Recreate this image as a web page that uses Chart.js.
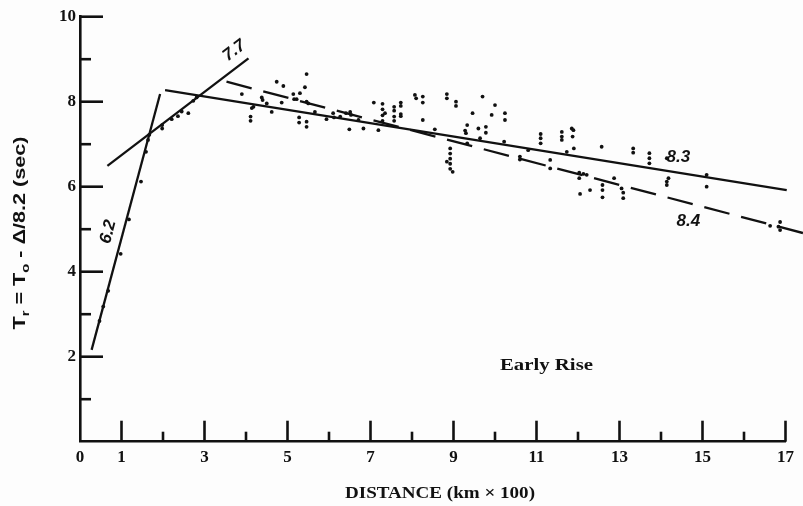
<!DOCTYPE html>
<html>
<head>
<meta charset="utf-8">
<script src="https://cdn.jsdelivr.net/npm/chart.js@4.4.1/dist/chart.umd.min.js"></script>
<style>
  html, body { margin: 0; padding: 0; background: #fdfdfd; }
</style>
</head>
<body>
<canvas id="rise-chart" width="803" height="506"></canvas>
<script>
// observed early-rise times, distance in km x 100
const distKm = [
  0.47, 0.56, 0.68, 0.98, 1.18, 1.47, 1.59, 1.64, 1.67,
  1.98, 1.98, 2.21, 2.36, 2.45, 2.61, 2.73, 2.81,
  3.90, 4.14, 4.11, 4.11, 4.18, 4.74, 4.90, 5.46, 5.42, 5.14, 5.16, 5.22, 5.30,
  4.38, 4.40, 4.86, 4.62, 4.50, 5.28, 5.28, 5.46, 5.46, 5.46, 5.50, 5.66,
  5.94, 6.10, 6.12, 6.27, 6.41, 6.49, 6.51, 6.53, 6.71, 6.83, 7.08, 7.19,
  7.29, 7.29, 7.29, 7.29, 7.35,
  7.57, 7.57, 7.57, 7.57, 7.73, 7.73, 7.73, 7.73, 8.07, 8.10, 8.26, 8.26, 8.26,
  8.55, 8.84, 8.84, 9.06, 9.06, 8.92, 8.92, 8.92, 8.92, 8.92, 8.84, 8.98,
  9.28, 9.33, 9.33, 9.30, 9.46, 9.70, 9.60, 9.78, 9.78, 9.64, 9.92, 10.00,
  10.24, 10.24, 10.22, 10.60, 10.60, 10.80,
  11.10, 11.10, 11.10, 11.33, 11.33, 11.61, 11.61, 11.61, 11.85, 11.89, 11.87,
  11.73, 11.90, 12.03, 12.03, 12.13, 12.21, 12.05, 12.29, 12.57, 12.59, 12.59,
  12.59, 12.87, 13.05, 13.09, 13.09, 13.33, 13.33, 13.72, 13.72, 13.72,
  14.14, 14.14, 14.14, 14.18,
  15.10, 15.10, 16.63, 16.83, 16.87, 16.87
];
const riseSec = [
  2.84, 3.18, 3.55, 4.42, 5.23, 6.12, 6.82, 7.10, 7.22,
  7.45, 7.37, 7.59, 7.66, 7.77, 7.73, 8.02, 8.10,
  8.18, 7.85, 7.65, 7.55, 7.88, 8.47, 8.37, 8.65, 8.34, 8.18, 8.06, 8.06, 8.20,
  8.10, 8.04, 7.98, 7.76, 7.96, 7.63, 7.51, 7.53, 7.41, 8.00, 7.96, 7.76,
  7.59, 7.73, 7.63, 7.65, 7.73, 7.35, 7.76, 7.69, 7.57, 7.37, 7.98, 7.33,
  7.95, 7.82, 7.68, 7.55, 7.73,
  7.88, 7.79, 7.65, 7.55, 7.98, 7.90, 7.71, 7.66, 8.16, 8.08, 8.12, 7.98, 7.57,
  7.35, 8.18, 8.08, 8.00, 7.90, 6.90, 6.78, 6.66, 6.54, 6.42, 6.59, 6.35,
  7.32, 7.45, 7.02, 7.26, 7.73, 8.12, 7.37, 7.41, 7.27, 7.14, 7.69, 7.92,
  7.73, 7.57, 7.06, 6.71, 6.64, 6.86,
  7.24, 7.14, 7.02, 6.63, 6.43, 7.29, 7.18, 7.10, 7.37, 7.33, 7.18,
  6.82, 6.90, 6.33, 6.20, 6.30, 6.28, 5.83, 5.92, 6.94, 6.04, 5.92,
  5.75, 6.20, 5.96, 5.86, 5.73, 6.90, 6.80, 6.79, 6.67, 6.55,
  6.67, 6.12, 6.04, 6.20,
  6.28, 6.00, 5.08, 5.06, 5.17, 4.98
];

// fitted velocity lines (end points)
const fit62X = [0.28, 1.93], fit62Y = [2.16, 8.18];
const fit77X = [0.66, 4.06], fit77Y = [6.49, 9.02];
const fit83X = [2.05, 17.03], fit83Y = [8.27, 5.92];
const fit84X = [3.53, 17.42], fit84Y = [8.47, 4.91];

// line names and where they sit (data units)
const lineNames = ['6.2', '7.7', '8.3', '8.4'];
const nameX = [0.68, 3.72, 14.42, 14.66];
const nameY = [4.94, 9.20, 6.69, 5.18];
const nameTilt = [-75, -37, 0, 0];

const ink = '#111';
const pts = (xs, ys) => xs.map((v, i) => ({ x: v, y: ys[i] }));

function fitLine(xs, ys, dash) {
    return {
        data: pts(xs, ys),
        showLine: true,
        borderColor: ink,
        borderWidth: 2.3,
        borderDash: dash || [],
        pointRadius: 0,
        clip: false
    };
}

// old typewriter lettering is wide: stretch text to a given width
function wideText(ctx, text, cx, cy, width) {
    const w = ctx.measureText(text).width;
    ctx.save();
    ctx.translate(cx, cy);
    ctx.scale(width / w, 1);
    ctx.fillText(text, 0, 0);
    ctx.restore();
}

const drawExtras = {
    id: 'drawExtras',
    afterDatasetsDraw(chart) {
        const { ctx, scales: { x, y } } = chart;
        ctx.save();
        ctx.strokeStyle = ink;
        ctx.fillStyle = ink;
        ctx.lineWidth = 2.6;

        // inward tick marks
        y.ticks.forEach(t => {
            if (t.value === 0) return;
            const py = y.getPixelForValue(t.value);
            const len = t.value % 2 === 0 ? 23 : 11;
            ctx.beginPath();
            ctx.moveTo(x.left, py);
            ctx.lineTo(x.left + len, py);
            ctx.stroke();
        });
        x.ticks.forEach(t => {
            if (t.value === 0) return;
            const px = x.getPixelForValue(t.value);
            const len = t.value % 2 === 1 ? 21 : 10;
            ctx.beginPath();
            ctx.moveTo(px, y.bottom);
            ctx.lineTo(px, y.bottom - len);
            ctx.stroke();
        });

        // line names
        ctx.font = 'bold italic 17px "Liberation Sans"';
        ctx.textAlign = 'center';
        ctx.textBaseline = 'middle';
        lineNames.forEach((n, i) => {
            ctx.save();
            ctx.translate(x.getPixelForValue(nameX[i]), y.getPixelForValue(nameY[i]));
            ctx.rotate(nameTilt[i] * Math.PI / 180);
            ctx.fillText(n, 0, 0);
            ctx.restore();
        });

        ctx.font = 'bold 17px "Liberation Serif"';
        wideText(ctx, 'Early Rise', x.getPixelForValue(11.24), y.getPixelForValue(1.80), 93);

        // axis titles
        ctx.font = 'bold 16px "Liberation Serif"';
        wideText(ctx, 'DISTANCE (km \u00d7 100)', 440, 494, 190);

        const parts = [
            ['T', false], ['r', true], [' = T', false], ['o', true], [' - \u0394/8.2 (sec)', false]
        ];
        const big = 'bold 16px "Liberation Sans"', small = 'bold 11px "Liberation Sans"';
        let total = 0;
        parts.forEach(p => { ctx.font = p[1] ? small : big; total += ctx.measureText(p[0]).width; });
        ctx.translate(21, 233);
        ctx.rotate(-Math.PI / 2);
        ctx.scale(193 / total, 1);
        ctx.textAlign = 'left';
        let cx = -total / 2;
        parts.forEach(p => {
            ctx.font = p[1] ? small : big;
            ctx.fillText(p[0], cx, p[1] ? 5 : 0);
            cx += ctx.measureText(p[0]).width;
        });
        ctx.restore();
    }
};

new Chart(document.getElementById('rise-chart').getContext('2d'), {
    type: 'scatter',
    data: {
        datasets: [
            {
                data: pts(distKm, riseSec),
                pointRadius: 1.9,
                pointBackgroundColor: ink,
                pointBorderWidth: 0
            },
            fitLine(fit62X, fit62Y),
            fitLine(fit77X, fit77Y),
            fitLine(fit83X, fit83Y),
            fitLine(fit84X, fit84Y, [26, 12])
        ]
    },
    options: {
        responsive: false,
        animation: false,
        layout: { padding: { left: 0, right: 17.5, top: 16.7, bottom: 0 } },
        plugins: { legend: { display: false }, tooltip: { enabled: false } },
        scales: {
            x: {
                type: 'linear',
                min: 0,
                max: 17,
                afterFit: s => { s.height = 64.3; },
                grid: { display: false, drawTicks: false },
                border: { display: true, color: ink, width: 2.6 },
                ticks: {
                    stepSize: 1,
                    autoSkip: false,
                    maxRotation: 0,
                    padding: 6,
                    color: ink,
                    font: { family: 'Liberation Serif', weight: 'bold', size: 17 },
                    callback: v => (v === 0 || v % 2 === 1) ? v : ''
                }
            },
            y: {
                type: 'linear',
                min: 0,
                max: 10,
                afterFit: s => { s.width = 80; },
                grid: { display: false, drawTicks: false },
                border: { display: true, color: ink, width: 2.6 },
                ticks: {
                    stepSize: 1,
                    padding: 4,
                    color: ink,
                    font: { family: 'Liberation Serif', weight: 'bold', size: 17 },
                    callback: v => (v !== 0 && v % 2 === 0) ? v : ''
                }
            }
        }
    },
    plugins: [drawExtras]
});
</script>
</body>
</html>
